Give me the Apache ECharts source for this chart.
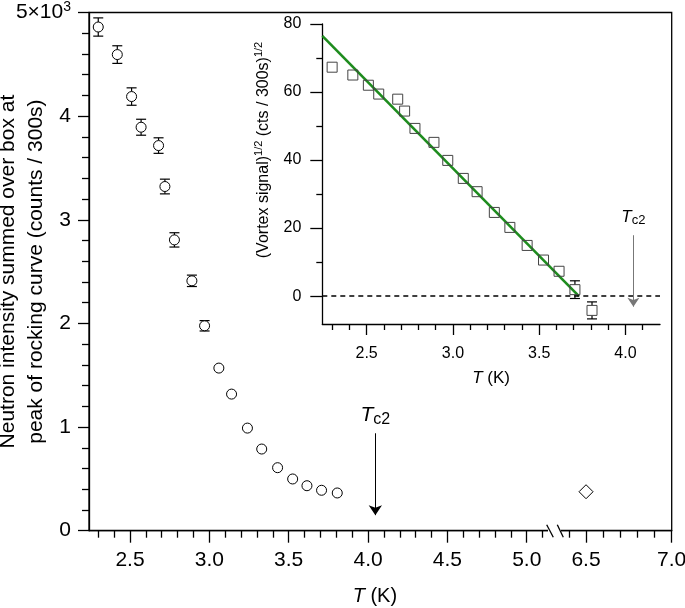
<!DOCTYPE html>
<html><head><meta charset="utf-8">
<script src="https://cdn.jsdelivr.net/npm/echarts@6/dist/echarts.min.js"></script>
<style>html,body{margin:0;padding:0;background:#fff}#c{width:685px;height:608px}</style>
</head><body><div id="c"></div>
<script>
// ---------- data ----------
const temperatures = [2.30, 2.42, 2.51, 2.57, 2.68, 2.72, 2.78, 2.89, 2.97, 3.06, 3.14, 3.24, 3.33, 3.43, 3.525, 3.615, 3.707, 3.806];
const intensityCounts = [4860, 4594, 4189, 3893, 3716, 3321, 2806, 2411, 1977, 1569, 1318, 990, 788, 608, 499, 434, 390, 364];
const intensityErrors = [88, 85, 84, 77, 75, 71, 69, 55, 50, 42, 38, 32, 28, 25, 22, 20, 20, 20];
const normalStateT = [6.5];
const normalStateCounts = [376];
const vortexSqrt = [67.3, 65.0, 62.0, 59.4, 57.9, 54.4, 49.3, 45.2, 39.9, 34.6, 30.7, 24.6, 20.2, 14.9, 10.6, 7.3, 1.9, -4.2];
const vortexSqrtErrors = [1.0, 1.0, 1.0, 1.0, 1.0, 1.0, 1.0, 1.0, 1.0, 1.0, 1.0, 1.0, 1.0, 1.0, 1.0, 1.2, 2.6, 2.5];
const fitLineT = [2.243, 3.73];
const fitLineV = [76.5, 0];
const tc2 = 4.046;
const mainTc2Arrow = [940, 150];
const insetTc2Arrow = [17.9, -3.1];

// axis ranges and tick labels
const mainLeftRange = [2.2417, 5.1402];
const mainRightRange = [6.348, 7.0];
const mainYRange = [0, 5000];
const insetXRange = [2.243, 4.2];
const insetYRange = [-8.2, 80];
const mainMajorTicks = [2.5, 3.0, 3.5, 4.0, 4.5, 5.0];
const mainMinorTicks = [2.3, 2.4, 2.6, 2.7, 2.8, 2.9, 3.1, 3.2, 3.3, 3.4, 3.6, 3.7, 3.8, 3.9, 4.1, 4.2, 4.3, 4.4, 4.6, 4.7, 4.8, 4.9, 5.1];
const rightMajorTicks = [6.5, 7.0];
const rightMinorTicks = [6.4, 6.6, 6.7, 6.8, 6.9];
const insetMajorTicks = [2.5, 3.0, 3.5, 4.0];
const insetMinorTicks = [2.3, 2.4, 2.6, 2.7, 2.8, 2.9, 3.1, 3.2, 3.3, 3.4, 3.6, 3.7, 3.8, 3.9, 4.1];
const insetYMajor = [0, 20, 40, 60, 80];
const insetYMinor = [10, 30, 50, 70];

// ---------- chart ----------
const FONT = 'Liberation Sans, Arial, Helvetica, sans-serif';
const INK = '#000';
const chart = echarts.init(document.getElementById('c'), null, {renderer: 'canvas'});

function xAxisDef(grid, range, ticks, len, labels, fs, margin) {
  return {
    type: 'value', gridIndex: grid, position: 'bottom', min: range[0], max: range[1],
    axisLine: {show: labels !== null, onZero: false, lineStyle: {color: INK, width: 1.3}},
    axisTick: {show: true, inside: false, length: len, customValues: ticks, lineStyle: {color: INK, width: 1.3}},
    axisLabel: labels ? {show: true, customValues: ticks, fontSize: fs, fontFamily: FONT, color: INK, margin: margin,
      showMinLabel: true, showMaxLabel: true, hideOverlap: false, formatter: v => v.toFixed(1)} : {show: false},
    splitLine: {show: false}
  };
}
function yAxisMinor(grid, range, ticks, len) {
  return {
    type: 'value', gridIndex: grid, position: 'left', min: range[0], max: range[1],
    axisLine: {show: false, onZero: false},
    axisTick: {show: true, length: len, customValues: ticks, lineStyle: {color: INK, width: 1.3}},
    axisLabel: {show: false}, splitLine: {show: false}
  };
}

function errorRender(gapPx) {
  return function (params, api) {
    const x = api.value(0), y = api.value(1), e = api.value(2);
    const c = api.coord([x, y]);
    const top = api.coord([x, y + e]);
    const bot = api.coord([x, y - e]);
    const st = {stroke: INK, lineWidth: 1.2};
    const ch = [];
    if (c[1] - top[1] <= gapPx) return {type: 'group', children: []};
    ch.push({type: 'line', shape: {x1: top[0], y1: top[1], x2: top[0], y2: c[1] - gapPx}, style: st});
    ch.push({type: 'line', shape: {x1: bot[0], y1: c[1] + gapPx, x2: bot[0], y2: bot[1]}, style: st});
    ch.push({type: 'line', shape: {x1: top[0] - 5, y1: top[1], x2: top[0] + 5, y2: top[1]}, style: st});
    ch.push({type: 'line', shape: {x1: bot[0] - 5, y1: bot[1], x2: bot[0] + 5, y2: bot[1]}, style: st});
    return {type: 'group', children: ch};
  };
}

const tcRich = (fsT, fsS, lhT, lhS) => ({
  t: {fontStyle: 'italic', fontSize: fsT, lineHeight: lhT, fontFamily: FONT, color: INK},
  s: {fontSize: fsS, lineHeight: lhS, verticalAlign: 'bottom', fontFamily: FONT, color: INK}
});

const mainData = temperatures.map((t, i) => [t, intensityCounts[i], intensityErrors[i]]);
const insetData = temperatures.map((t, i) => [t, vortexSqrt[i], vortexSqrtErrors[i]]);
const fitData = fitLineT.map((t, i) => [t, fitLineV[i]]);
const normalData = normalStateT.map((t, i) => [t, normalStateCounts[i]]);

const gridBase = {outerBoundsMode: 'none', containLabel: false};
const option = {
  animation: false,
  backgroundColor: '#fff',
  textStyle: {fontFamily: FONT},
  grid: [
    Object.assign({left: 89, top: 12.5, width: 460, height: 518.2}, gridBase),
    Object.assign({left: 560, top: 12.5, width: 111.7, height: 518.2}, gridBase),
    Object.assign({left: 322.3, top: 24, width: 337.7, height: 300}, gridBase),
    Object.assign({left: 89, top: 12.5, width: 582.7, height: 518.2, show: true, borderColor: INK, borderWidth: 1.3, backgroundColor: 'transparent'}, gridBase)
  ],
  xAxis: [
    xAxisDef(0, mainLeftRange, mainMajorTicks, 12, true, 21, 19),
    xAxisDef(0, mainLeftRange, mainMinorTicks, 7, null),
    xAxisDef(1, mainRightRange, rightMajorTicks, 12, true, 21, 19),
    xAxisDef(1, mainRightRange, rightMinorTicks, 7, null),
    Object.assign(xAxisDef(2, insetXRange, insetMajorTicks, 11, true, 16, 22), {
      name: '{i|T} (K)', nameLocation: 'middle', nameGap: 46, nameMoveOverlap: false,
      nameTextStyle: {fontSize: 17, color: INK, fontFamily: FONT, rich: {i: {fontStyle: 'italic', fontSize: 17, fontFamily: FONT, color: INK}}}
    }),
    xAxisDef(2, insetXRange, insetMinorTicks, 6, null),
    {
      type: 'value', gridIndex: 3, position: 'bottom', min: 0, max: 1,
      axisLine: {show: false}, axisTick: {show: false}, axisLabel: {show: false}, splitLine: {show: false},
      name: '{i|T} (K)', nameLocation: 'middle', nameGap: 56, nameMoveOverlap: false,
      nameTextStyle: {fontSize: 20, color: INK, fontFamily: FONT, padding: [0, 11, 0, 0],
        rich: {i: {fontStyle: 'italic', fontSize: 20, fontFamily: FONT, color: INK}}}
    }
  ],
  yAxis: [
    {
      type: 'value', gridIndex: 0, position: 'left', min: mainYRange[0], max: mainYRange[1], interval: 1000,
      axisLine: {show: true, onZero: false, lineStyle: {color: INK, width: 1.3}},
      axisTick: {show: true, length: 11, lineStyle: {color: INK, width: 1.3}},
      minorTick: {show: true, splitNumber: 5, length: 7, lineStyle: {color: INK, width: 1.3}},
      axisLabel: {
        fontSize: 21, color: INK, fontFamily: FONT, margin: 18, showMaxLabel: true,
        formatter: v => v === 5000 ? '{a|5×10}{b|3}' : '{a|' + String(v / 1000) + '}',
        rich: {a: {fontSize: 21, lineHeight: 24, fontFamily: FONT, color: INK},
               b: {fontSize: 14, lineHeight: 12, verticalAlign: 'top', fontFamily: FONT, color: INK}}
      },
      splitLine: {show: false},
      name: 'Neutron intensity summed over box at\npeak of rocking curve (counts / 300s)',
      nameLocation: 'middle', nameRotate: 90, nameGap: 39, nameMoveOverlap: false,
      nameTextStyle: {fontSize: 21, lineHeight: 28, color: INK, fontFamily: FONT}
    },
    {type: 'value', gridIndex: 1, min: mainYRange[0], max: mainYRange[1], show: false},
    {
      type: 'value', gridIndex: 2, position: 'left', min: insetYRange[0], max: insetYRange[1],
      axisLine: {show: true, onZero: false, lineStyle: {color: INK, width: 1.3}},
      axisTick: {show: true, length: 12, customValues: insetYMajor, lineStyle: {color: INK, width: 1.3}},
      axisLabel: {show: true, customValues: insetYMajor, fontSize: 16, color: INK, fontFamily: FONT, margin: 21},
      splitLine: {show: false},
      name: '{n|(Vortex signal)}{sup|1/2}{n| (cts / 300s)}{sup|1/2}',
      nameLocation: 'middle', nameRotate: 90, nameGap: 49, nameMoveOverlap: false,
      nameTextStyle: {fontSize: 16, color: INK, fontFamily: FONT, padding: [0, 0, 0, 48],
        rich: {n: {fontSize: 16, lineHeight: 20, fontFamily: FONT, color: INK},
               sup: {fontSize: 11, lineHeight: 11, verticalAlign: 'top', fontFamily: FONT, color: INK}}}
    },
    yAxisMinor(2, insetYRange, insetYMinor, 6),
    {type: 'value', gridIndex: 3, min: 0, max: 1, show: false}
  ],
  series: [
    {
      type: 'custom', xAxisIndex: 0, yAxisIndex: 0, renderItem: errorRender(5),
      encode: {x: 0, y: 1}, data: mainData, z: 2, silent: true
    },
    {
      type: 'scatter', xAxisIndex: 0, yAxisIndex: 0, symbol: 'circle', symbolSize: 10,
      itemStyle: {color: '#fff', borderColor: INK, borderWidth: 1, opacity: 1}, z: 3,
      data: mainData.map(d => [d[0], d[1]]),
      markLine: {
        silent: true, symbol: ['none', 'arrow'], symbolSize: 10,
        lineStyle: {color: INK, width: 1, type: 'solid', opacity: 1},
        label: {show: true, position: 'start', distance: 6, formatter: '{t|T}{s|c2}', rich: tcRich(21, 16, 24, 12)},
        data: [[{coord: [tc2, mainTc2Arrow[0]]}, {coord: [tc2, mainTc2Arrow[1]]}]]
      }
    },
    {
      type: 'scatter', xAxisIndex: 2, yAxisIndex: 1, symbol: 'diamond', symbolSize: 14,
      itemStyle: {color: '#fff', borderColor: INK, borderWidth: 1, opacity: 1}, data: normalData
    },
    {
      type: 'line', xAxisIndex: 4, yAxisIndex: 2, data: fitData, showSymbol: false, symbol: 'none',
      lineStyle: {color: '#1e8c1e', width: 2.6}, z: 3,
      markLine: {
        silent: true, symbol: ['none', 'none'],
        lineStyle: {color: INK, width: 1.6, type: [5, 4], opacity: 1},
        label: {show: false},
        data: [{yAxis: 0}]
      }
    },
    {
      type: 'custom', xAxisIndex: 4, yAxisIndex: 2, renderItem: errorRender(5),
      encode: {x: 0, y: 1}, data: insetData, z: 2, silent: true
    },
    {
      type: 'scatter', xAxisIndex: 4, yAxisIndex: 2, symbol: 'rect', symbolSize: 10,
      itemStyle: {color: 'rgba(255,255,255,0)', borderColor: '#444', borderWidth: 1, opacity: 1}, z: 4,
      data: insetData.map(d => [d[0], d[1]]),
      markLine: {
        silent: true, symbol: ['none', 'arrow'], symbolSize: 9,
        lineStyle: {color: '#777', width: 1, type: 'solid', opacity: 1},
        label: {show: true, position: 'start', distance: 8, formatter: '{t|T}{s|c2}', rich: tcRich(17, 13, 20, 10)},
        data: [[{coord: [tc2, insetTc2Arrow[0]]}, {coord: [tc2, insetTc2Arrow[1]]}]]
      }
    }
  ]
};
chart.setOption(option);

// axis-break marks between the two halves of the main x axis
const leftEnd = chart.convertToPixel({xAxisIndex: 0}, mainLeftRange[1]);
const rightStart = chart.convertToPixel({xAxisIndex: 2}, mainRightRange[0]);
const axisY = chart.convertToPixel({yAxisIndex: 0}, mainYRange[0]);
chart.setOption({
  graphic: [
    {type: 'rect', z: 100, shape: {x: leftEnd - 1, y: axisY - 4, width: rightStart - leftEnd + 2, height: 8}, style: {fill: '#fff'}},
    {type: 'line', z: 101, shape: {x1: leftEnd - 2.3, y1: axisY - 6, x2: leftEnd + 4.3, y2: axisY + 6.5}, style: {stroke: INK, lineWidth: 1.3}},
    {type: 'line', z: 101, shape: {x1: rightStart - 2.7, y1: axisY - 6, x2: rightStart + 3.3, y2: axisY + 6.5}, style: {stroke: INK, lineWidth: 1.3}}
  ]
});
</script></body></html>
